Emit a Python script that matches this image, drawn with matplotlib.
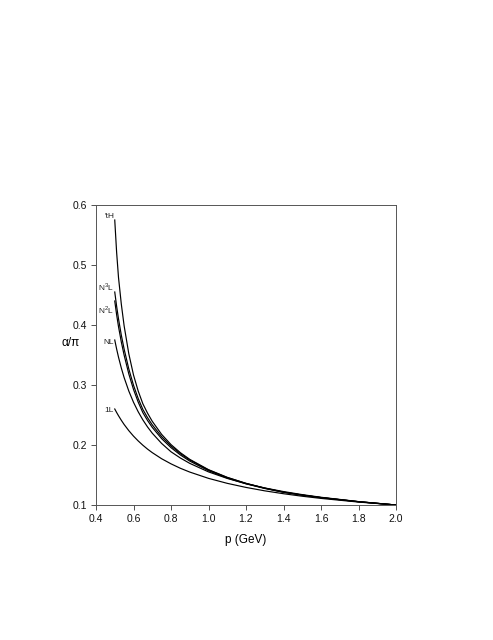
#!/usr/bin/env python3
# Running coupling alpha/pi vs momentum p for several truncations (1L ... N3L, 't Hooft scheme)

import matplotlib
matplotlib.use("Agg")
import matplotlib.pyplot as plt

# momentum grid (GeV) read along the x axis
p_gev = [0.50, 0.51, 0.52, 0.535, 0.55, 0.575, 0.60, 0.625, 0.65, 0.675, 0.70,
         0.75, 0.80, 0.85, 0.90, 1.00, 1.10, 1.20, 1.30, 1.40, 1.50, 1.60, 1.80, 2.00]

# alpha/pi values
a_1l = [0.2600, 0.2542, 0.2488, 0.2412, 0.2342, 0.2239, 0.2148, 0.2068, 0.1996, 0.1931, 0.1873,
        0.1771, 0.1686, 0.1612, 0.1549, 0.1444, 0.1361, 0.1293, 0.1236, 0.1188, 0.1146, 0.1110,
        0.1049, 0.1000]
a_nl = [0.3750, 0.3600, 0.3464, 0.3283, 0.3124, 0.2899, 0.2712, 0.2554, 0.2418, 0.2300, 0.2197,
        0.2026, 0.1887, 0.1783, 0.1694, 0.1552, 0.1443, 0.1355, 0.1284, 0.1224, 0.1173, 0.1129,
        0.1057, 0.1000]
a_n2l = [0.4400, 0.4172, 0.3973, 0.3717, 0.3498, 0.3184, 0.2926, 0.2715, 0.2539, 0.2408, 0.2294,
         0.2106, 0.1956, 0.1834, 0.1732, 0.1571, 0.1449, 0.1353, 0.1275, 0.1211, 0.1163, 0.1122,
         0.1054, 0.1000]
a_n3l = [0.4550, 0.4312, 0.4103, 0.3831, 0.3598, 0.3267, 0.2996, 0.2775, 0.2592, 0.2455, 0.2336,
         0.2139, 0.1983, 0.1856, 0.1750, 0.1584, 0.1458, 0.1360, 0.1281, 0.1215, 0.1166, 0.1124,
         0.1055, 0.1000]
a_th = [0.5750, 0.5211, 0.4792, 0.4348, 0.3986, 0.3520, 0.3167, 0.2900, 0.2686, 0.2530, 0.2395,
        0.2177, 0.2007, 0.1872, 0.1761, 0.1589, 0.1461, 0.1361, 0.1281, 0.1215, 0.1166, 0.1124,
        0.1055, 0.1000]

series = [
    ("'tH", a_th, 0.580),
    ("N$^3$L", a_n3l, 0.463),
    ("N$^2$L", a_n2l, 0.425),
    ("NL", a_nl, 0.370),
    ("1L", a_1l, 0.258),
]

plt.rcParams["font.family"] = ["Liberation Sans", "DejaVu Sans"]
plt.rcParams["mathtext.fontset"] = "custom"
plt.rcParams["mathtext.rm"] = "Liberation Sans"

fig = plt.figure(figsize=(4.93, 6.40), dpi=100)
ax = fig.add_axes([96 / 493, 135 / 640, 300 / 493, 300 / 640])

for label, vals, ylab in series:
    ax.plot(p_gev, vals, color="black", linewidth=0.85)
    ax.text(0.497, ylab, label, ha="right", va="center", fontsize=6, color="#222222")

ax.set_xlim(0.4, 2.0)
ax.set_ylim(0.1, 0.6)
ax.set_xticks([0.4, 0.6, 0.8, 1.0, 1.2, 1.4, 1.6, 1.8, 2.0])
ax.set_xticklabels([f"{v:.1f}" for v in ax.get_xticks()])
ax.set_yticks([0.1, 0.2, 0.3, 0.4, 0.5, 0.6])
ax.set_yticklabels([f"{v:.1f}" for v in ax.get_yticks()])
ax.tick_params(direction="out", length=3.5, width=0.6, labelsize=7.5, colors="#333333",
               labelcolor="#111111", pad=3)
for sp in ax.spines.values():
    sp.set_color("#555555")
    sp.set_linewidth(0.7)

ax.set_xlabel("p (GeV)", fontsize=8.5, labelpad=7)
ax.set_ylabel("α/π", fontsize=8.5, rotation=0)
ax.yaxis.set_label_coords(-0.085, 0.52)

fig.savefig("out.png", dpi=100)
plt.close(fig)
